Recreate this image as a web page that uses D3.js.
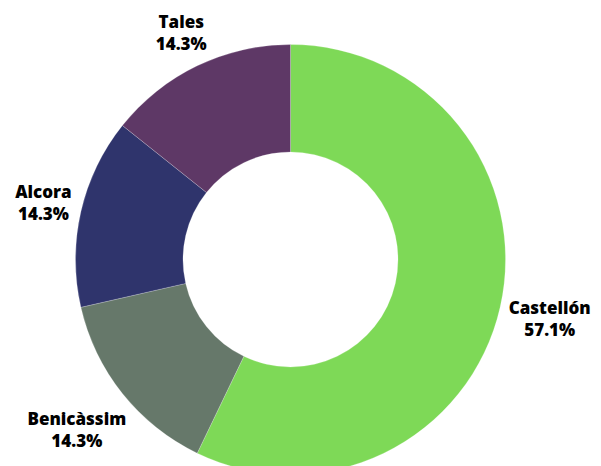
<!DOCTYPE html>
<html>
<head>
<meta charset="utf-8">
<script src="https://cdn.jsdelivr.net/npm/d3@7"></script>
<style>
  html, body { margin: 0; padding: 0; background: #fff; }
  svg { display: block; }
  text { font-family: "Open Sans", sans-serif; font-weight: 800; fill: #000; }
</style>
</head>
<body>
<svg id="chart" width="601" height="466"></svg>
<script>
// Share of entries by town
const categories = ["Castellón", "Benicàssim", "Alcora", "Tales"];
const values = [4, 1, 1, 1];
const colors = ["#7ED957", "#66786A", "#2F346C", "#5E3866"];

const width = 601, height = 466;
const cx = 290.5, cy = 259.5;
const outerR = 215, innerR = 107.5;
const labelGap = 221;
const fontSize = 17, lineH = 22;

const svg = d3.select("#chart");
const g = svg.append("g").attr("transform", `translate(${cx},${cy})`);

const total = d3.sum(values);
const data = categories.map((c, i) => ({ name: c, value: values[i], color: colors[i] }));

const pie = d3.pie().value(d => d.value).sort(null);
const arc = d3.arc().innerRadius(innerR).outerRadius(outerR);
const arcs = pie(data);

g.selectAll("path.slice")
  .data(arcs)
  .enter().append("path")
  .attr("class", "slice")
  .attr("d", arc)
  .attr("fill", d => d.data.color)
  .attr("stroke", "rgba(255,255,255,0.35)")
  .attr("stroke-width", 0.6);

const fmt = d3.format(".1f");

// Labels: two-line boxes pushed outward along each slice's mid angle
arcs.forEach(a => {
  const mid = (a.startAngle + a.endAngle) / 2;
  const sx = Math.sin(mid), sy = -Math.cos(mid);
  const t = g.append("text")
    .attr("text-anchor", "middle")
    .style("font-size", fontSize + "px");
  t.append("tspan").attr("x", 0).attr("dy", 0).text(a.data.name);
  t.append("tspan").attr("x", 0).attr("dy", lineH).text(fmt(a.data.value / total * 100) + "%");
  const w = t.node().getBBox().width;
  const h = lineH * 2;
  const r = labelGap + Math.abs(sx) * w / 2 + Math.abs(sy) * h / 2;
  const lx = sx * r, ly = sy * r;
  // first baseline so that the block is vertically centred on (lx, ly)
  const y0 = ly - lineH / 2 + fontSize * 0.36;
  t.attr("transform", `translate(${lx},${y0})`);
});
</script>
</body>
</html>
